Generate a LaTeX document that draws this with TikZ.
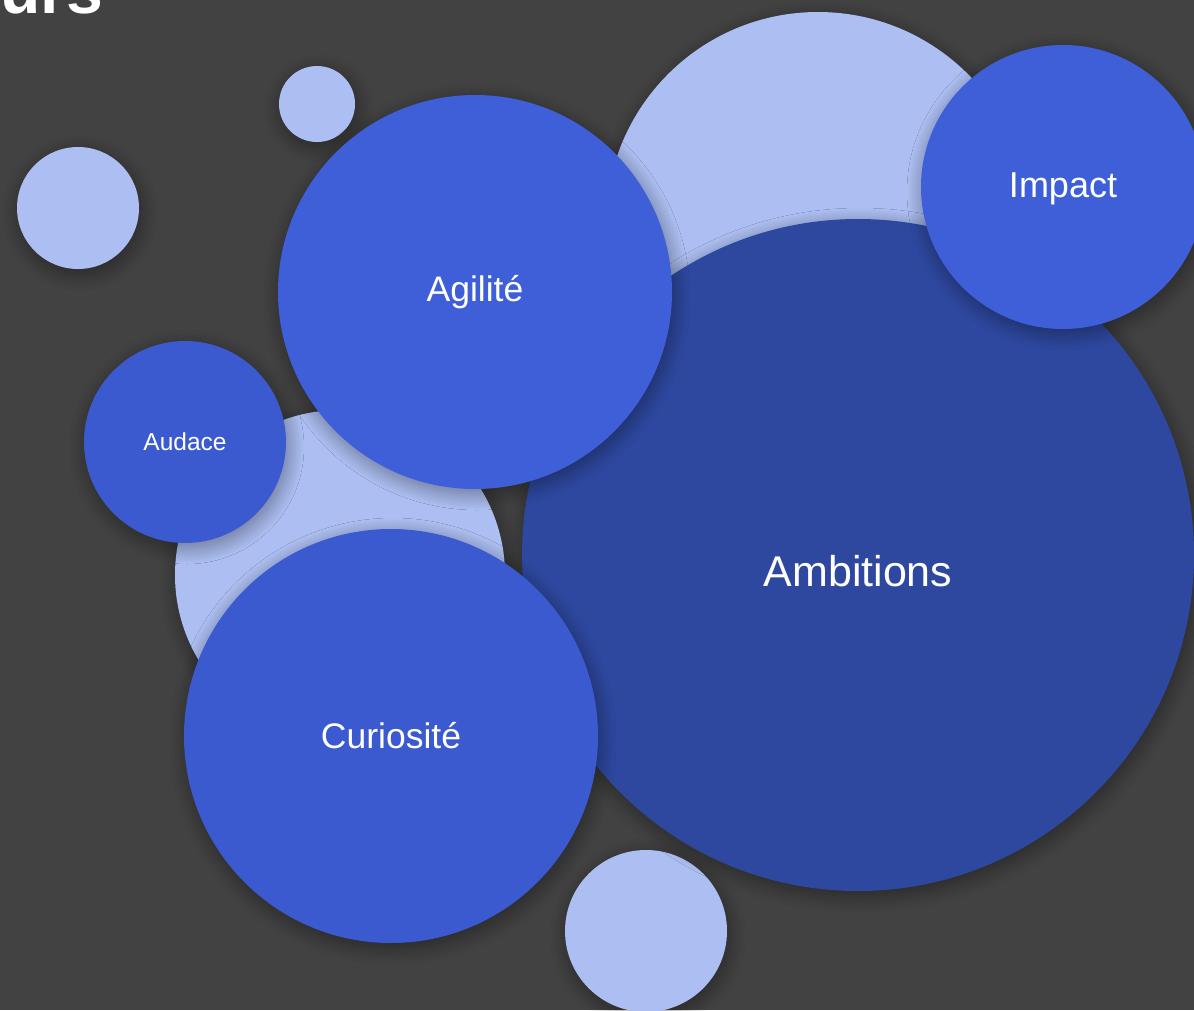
\documentclass[tikz,border=0pt]{standalone}
\usepackage{fontspec}
\setmainfont{Liberation Sans}
\usetikzlibrary{shadows.blur}
\definecolor{bg}{HTML}{424242}
\definecolor{lightb}{HTML}{ADBFF2}
\definecolor{midb}{HTML}{3F5FD9}
\definecolor{curb}{HTML}{3B5ACF}
\definecolor{darkb}{HTML}{2E489F}
\tikzset{
  bub/.style={circle, inner sep=0pt, text=white, minimum size=#1,
    blur shadow={shadow xshift=2pt, shadow yshift=-5pt, shadow blur radius=16pt, shadow blur steps=24, shadow opacity=40}},
  lbl/.style={font=\fontsize{#1}{#1}\selectfont}
}
\begin{document}
\begin{tikzpicture}[x=1pt,y=-1pt]
\useasboundingbox (0,0) rectangle (1194,1010);
\clip (0,0) rectangle (1194,1010);
\fill[bg] (0,0) rectangle (1194,1010);
% title fragment
\node[anchor=base east, inner sep=0pt, text=white, font=\fontsize{66}{66}\selectfont\bfseries] (title) at (103,13) {Valeurs};
% small light bubbles
\node[bub=76pt, fill=lightb] (l1) at (317,104) {};
\node[bub=122pt, fill=lightb] (l2) at (78,208) {};
\node[bub=162pt, fill=lightb] (l6) at (646,931) {};
% big light bubble behind Ambitions
\node[bub=424pt, fill=lightb] (l3) at (818,224) {};
% Ambitions
\node[bub=672pt, fill=darkb] (amb) at (858,555) {};
\node[text=white, lbl=43] (ambt) at (858,571) {Ambitions};
% Impact
\node[bub=284pt, fill=midb] (imp) at (1063,187) {};
\node[text=white, lbl=36] (impt) at (1063,189) {Impact};
% light bubble behind Audace / Curiosite
\node[bub=330pt, fill=lightb] (l4) at (340,575) {};
% Agilite
\node[bub=394pt, fill=midb] (agi) at (475,292) {};
\node[text=white, lbl=35.5] (agit) at (475,292) {Agilité};
% Audace
\node[bub=202pt, fill=curb] (aud) at (185,442) {};
\node[text=white, lbl=24.5] (audt) at (185,442) {Audace};
% Curiosite
\node[bub=414pt, fill=curb] (cur) at (391,736) {};
\node[text=white, lbl=35.5] (curt) at (391,736) {Curiosité};
\end{tikzpicture}
\end{document}
